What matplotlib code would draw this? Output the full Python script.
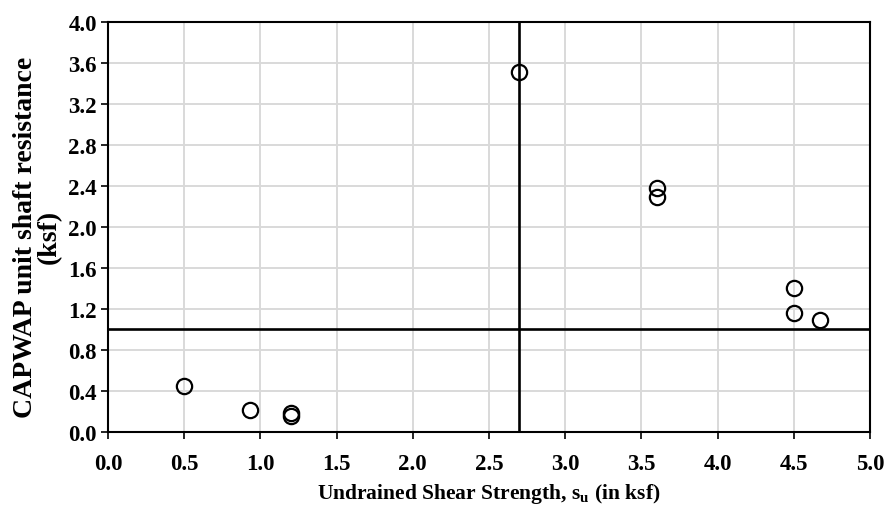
import numpy as np
import matplotlib.pyplot as plt

plt.rcParams['font.family'] = 'Liberation Serif'
plt.rcParams['font.weight'] = 'bold'
plt.rcParams['mathtext.fontset'] = 'custom'
plt.rcParams['mathtext.rm'] = 'Liberation Serif:bold'
plt.rcParams['mathtext.it'] = 'Liberation Serif:bold'
plt.rcParams['mathtext.bf'] = 'Liberation Serif:bold'

# su (ksf) vs CAPWAP unit shaft resistance (ksf)
su = [0.50, 0.93, 1.20, 1.20, 2.70, 3.60, 3.60, 4.50, 4.50, 4.67]
fs = [0.45, 0.21, 0.19, 0.16, 3.51, 2.38, 2.29, 1.40, 1.16, 1.09]
su_lim = 2.7
fs_lim = 1.0

fig = plt.figure(figsize=(8.91, 5.1), dpi=100)
ax = fig.add_axes([0.1212, 0.151, 0.8552, 0.8039])

ax.axvline(su_lim, color='black', lw=1.9, zorder=2)
ax.axhline(fs_lim, color='black', lw=1.9, zorder=2)
ax.plot(su, fs, 'o', ms=11, mfc='none', mec='black', mew=1.6, zorder=3)

ax.set_xlim(0, 5)
ax.set_ylim(0, 4)
ax.set_xticks(np.arange(0, 5.01, 0.5))
ax.set_yticks(np.arange(0, 4.01, 0.4))
ax.xaxis.set_major_formatter(plt.FormatStrFormatter('%.1f'))
ax.yaxis.set_major_formatter(plt.FormatStrFormatter('%.1f'))
ax.grid(color='#d9d9d9', lw=1.4, zorder=0)
ax.set_axisbelow(True)
for s in ax.spines.values():
    s.set_color('black')
    s.set_linewidth(1.5)
ax.tick_params(direction='out', length=5, width=1.2, labelsize=16.5, pad=10)
ax.tick_params(axis='y', pad=3)

ax.set_xlabel(r'Undrained Shear Strength, $\mathrm{s_u}$ (in ksf)', fontsize=15.5,
              fontweight='bold', labelpad=5)
fig.text(0.042, 0.535, 'CAPWAP unit shaft resistance\n(ksf)', rotation=90,
         ha='center', va='center', fontsize=20, fontweight='bold', linespacing=0.92)

fig.savefig('out.png', dpi=100)
